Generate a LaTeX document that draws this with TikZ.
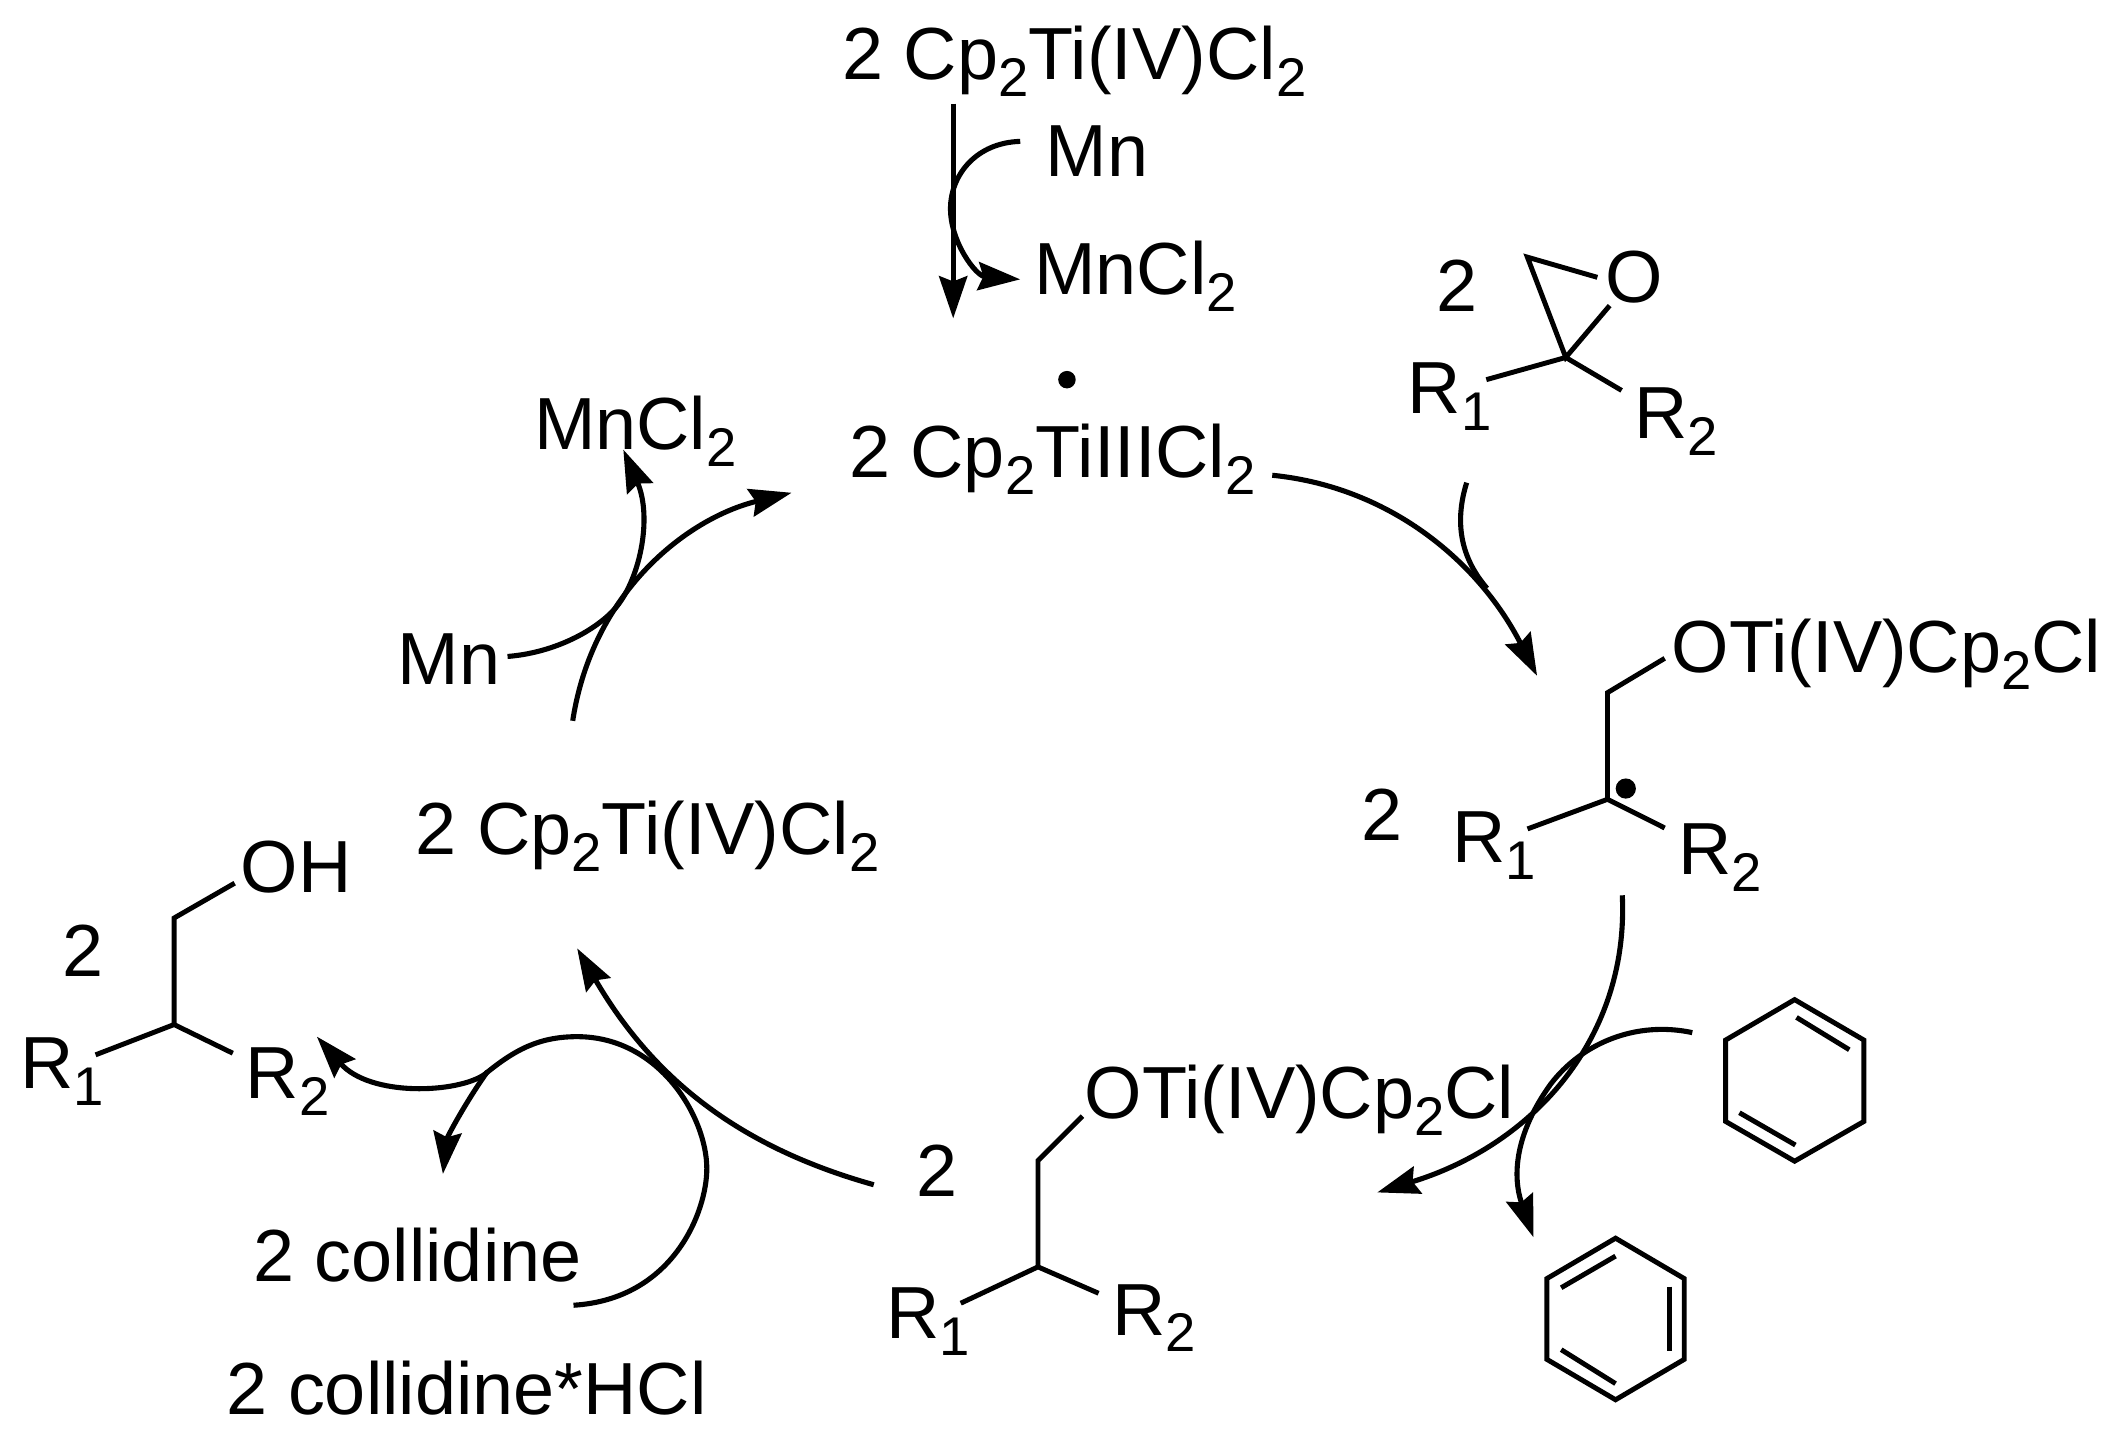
\documentclass[tikz,border=0pt]{standalone}
\usepackage{fontspec}
\setmainfont{Liberation Sans}
\usepackage{tikz}
\usetikzlibrary{arrows.meta}
\newcommand{\subs}[1]{\raisebox{-0.23em}{\fontsize{15.5}{15.5}\selectfont #1}}
\tikzset{
  chem/.style={inner sep=0pt,anchor=base west,xshift=-0.7pt,font=\fontsize{21}{24}\selectfont},
  bond/.style={line width=1.4pt},
  rxn/.style={line width=1.45pt,-{Stealth[length=12pt,width=8pt,inset=1.5pt]}},
  rxnline/.style={line width=1.45pt},
}
\begin{document}
\begin{tikzpicture}[x=0.1346mm,y=-0.1346mm]
\useasboundingbox (0,0) rectangle (1568,1069.6);
% Labels of the cycle
\node[chem] (tifour) at (627,59) {2 Cp\subs{2}Ti(IV)Cl\subs{2}};
\node[chem] (mntop) at (778,131) {Mn};
\node[chem] (mnclTop) at (769.6,219) {MnCl\subs{2}};
\node[chem] (tithree) at (632,355) {2 Cp\subs{2}TiIIICl\subs{2}};
\node[chem] (mnclLeft) at (398,334) {MnCl\subs{2}};
\node[chem] (mnleft) at (296.7,508.7) {Mn};
\node[chem] (tifourLeft) at (310,634.7) {2 Cp\subs{2}Ti(IV)Cl\subs{2}};
\node[chem] (coll) at (189.5,952) {2 collidine};
\node[chem] (collhcl) at (169.6,1050.8) {2 collidine*HCl};
\fill (792.5,282) circle (6.5);

% Epoxide
\node[chem] (epoxn) at (1068,231) {2};
\node[chem] (epoxO) at (1194,225) {O};
\node[chem] (epoxRa) at (1047,307) {R\subs{1}};
\node[chem] (epoxRb) at (1215,326) {R\subs{2}};
\coordinate (epoxC) at (1163,265.5);
\coordinate (epoxH) at (1134.5,191);
\draw[bond] (1186.5,206) -- (epoxH) -- (epoxC) -- (1195.6,227);
\draw[bond] (1104,282) -- (epoxC) -- (1204.5,290);

% Radical intermediate
\node[chem] (radn) at (1012.5,624.5) {2};
\node[chem] (radO) at (1243,499.7) {OTi(IV)Cp\subs{2}Cl};
\node[chem] (radRa) at (1080,641) {R\subs{1}};
\node[chem] (radRb) at (1248,649.7) {R\subs{2}};
\coordinate (radCa) at (1194,514.5);
\coordinate (radCb) at (1194,593.7);
\draw[bond] (1236.5,489) -- (radCa) -- (radCb);
\draw[bond] (1134.6,615.7) -- (radCb) -- (1236.5,615);
\fill (1207.6,585.7) circle (7.5);

% Reduced intermediate
\node[chem] (redn) at (682,889) {2};
\node[chem] (redO) at (807,831) {OTi(IV)Cp\subs{2}Cl};
\node[chem] (redRa) at (659.7,994) {R\subs{1}};
\node[chem] (redRb) at (827.5,991.6) {R\subs{2}};
\coordinate (redCa) at (771,862);
\coordinate (redCb) at (771,941);
\draw[bond] (804,829) -- (redCa) -- (redCb);
\draw[bond] (713.6,968) -- (redCb) -- (816,960.6);

% Alcohol
\node[chem] (alcn) at (47.4,725) {2};
\node[chem] (alcO) at (180,662.7) {OH};
\node[chem] (alcRa) at (16.6,808.8) {R\subs{1}};
\node[chem] (alcRb) at (183.8,815.8) {R\subs{2}};
\coordinate (alcCa) at (129.3,681.9);
\coordinate (alcCb) at (129.3,761);
\draw[bond] (174.3,656) -- (alcCa) -- (alcCb);
\draw[bond] (71,783.5) -- (alcCb) -- (172.9,782.3);

% Cyclohexadiene
\draw[bond] (1333,742.5) -- (1384.4,772.5) -- (1384.4,833) -- (1333,862.5) -- (1281.8,833) -- (1281.8,772.5) -- cycle;
\draw[bond] (1334.4,755.7) -- (1373.6,779.7);
\draw[bond] (1292,826.5) -- (1333.6,850.5);

% Benzene
\draw[bond] (1200,919.7) -- (1251,949.7) -- (1251,1009.7) -- (1200,1039.7) -- (1149,1009.7) -- (1149,949.7) -- cycle;
\draw[bond] (1159.6,956.5) -- (1200,933);
\draw[bond] (1240.3,955.7) -- (1240.3,1003.7);
\draw[bond] (1159.6,1002.5) -- (1200,1027.7);

% Arrow ends
\coordinate (topA) at (708,77);
\coordinate (topB) at (708,236.5);
\coordinate (mnA) at (757.8,105);
\coordinate (mnB) at (706,155);
\coordinate (mnC) at (757.8,207.5);
\coordinate (stepaA) at (945,353);
\coordinate (stepaB) at (1141.7,502);
\coordinate (epA) at (1089.4,358.5);
\coordinate (epB) at (1104.5,437);
\coordinate (stepbA) at (1205,665);
\coordinate (stepbB) at (1023,885.7);
\coordinate (dieneA) at (1257,767);
\coordinate (dieneB) at (1152,805);
\coordinate (dieneC) at (1139,919);
\coordinate (stepcA) at (649,880);
\coordinate (stepcB) at (428.7,704.4);
\coordinate (collA) at (426,969.5);
\coordinate (collB) at (525,868);
\coordinate (collC) at (428.7,770);
\coordinate (collD) at (360,798);
\coordinate (collE) at (235.4,770);
\coordinate (collF) at (362,796);
\coordinate (collG) at (329,872);
\coordinate (stepdA) at (425.4,535.4);
\coordinate (stepdB) at (588,366);
\coordinate (mnlA) at (377,487.6);
\coordinate (mnlB) at (456,453);
\coordinate (mnlC) at (463,334);

% Arrows
\draw[rxn] (topA) -- (topB);
\draw[rxn] (mnA) .. controls (725,106) and (706,130) .. (mnB) .. controls (706,180) and (725,205) .. (mnC);
\draw[rxn] (stepaA) .. controls (1035,362) and (1100,420) .. (stepaB);
\draw[rxnline] (epA) .. controls (1078,395) and (1090,420) .. (epB);
\draw[rxn] (stepbA) .. controls (1210,770) and (1140,850) .. (stepbB);
\draw[rxn] (dieneA) .. controls (1215,758) and (1175,775) .. (dieneB) .. controls (1128,838) and (1122,870) .. (dieneC);
\draw[rxn] (stepcA) .. controls (560,855) and (490,810) .. (stepcB);
\draw[rxn] (collA) .. controls (500,965) and (525,900) .. (collB) .. controls (525,830) and (490,770) .. (collC) .. controls (400,770) and (382,780) .. (collD) .. controls (340,812) and (275,815) .. (collE);
\draw[rxn] (collF) .. controls (345,820) and (332,845) .. (collG);
\draw[rxn] (stepdA) .. controls (440,440) and (510,385) .. (stepdB);
\draw[rxn] (mnlA) .. controls (410,485) and (440,470) .. (mnlB) .. controls (475,432) and (485,385) .. (mnlC);
\end{tikzpicture}
\end{document}
